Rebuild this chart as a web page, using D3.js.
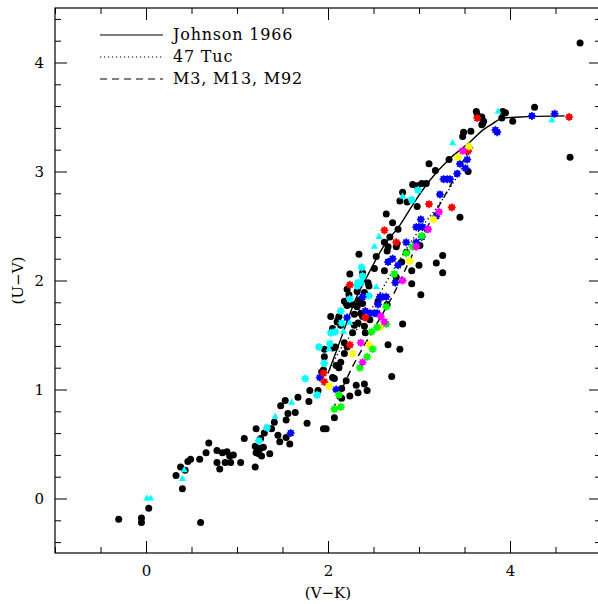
<!DOCTYPE html>
<meta charset="utf-8">
<script src="https://d3js.org/d3.v7.min.js"></script>
<style type="text/css">
body { margin: 0; background: #fff; }
svg text { font-family: "DejaVu Serif", serif; fill: #000; }
.axis line { stroke: #000; stroke-width: 1px; }
.axis path { display: none; }
.frame { fill: none; stroke: #000; stroke-width: 1.2px; }
.seq { fill: none; stroke: #000; stroke-width: 1.4px; }
</style>
<body>
<div id="chart"></div>
</body>
<script>

// sequences, (V-K, U-V)
var johnson = [[2.0,1.15],[2.1,1.37],[2.2,1.6],[2.3,1.82],[2.45,2.07],[2.6,2.3],[2.8,2.52],[2.95,2.72],[3.12,2.92],[3.34,3.12],[3.56,3.27],[3.7,3.38],[3.81,3.44],[3.92,3.49],[4.11,3.5],[4.6,3.51]];
var tuc47 = [[2.0,1.15],[2.13,1.36],[2.43,1.67],[2.65,2.0],[2.95,2.4],[3.23,2.71],[3.45,3.0],[3.59,3.22]];
var m3m13m92 = [[2.05,0.81],[2.27,1.21],[2.43,1.45],[2.76,1.94],[2.9,2.19],[3.15,2.58],[3.35,2.88],[3.55,3.2]];

// black stars (field giants)
var blackPts = [[-0.30,-0.19],[-0.05,-0.18],[-0.05,-0.22],[0.03,-0.09],[0.60,-0.22],[0.40,0.09],[0.33,0.21],[0.38,0.29],[0.43,0.26],[0.46,0.34],
  [0.49,0.36],[0.59,0.36],[0.66,0.42],[0.69,0.51],[0.78,0.44],[0.84,0.42],[0.89,0.43],[0.92,0.39],[0.96,0.40],[0.78,0.33],
  [0.81,0.27],[0.87,0.33],[0.93,0.33],[1.04,0.33],[1.08,0.55],[1.21,0.64],[1.20,0.48],[1.22,0.44],[1.26,0.46],[1.29,0.47],
  [1.21,0.42],[1.24,0.41],[1.20,0.29],[1.27,0.39],[1.36,0.41],[1.26,0.55],[1.30,0.60],[1.38,0.64],[1.45,0.58],[1.47,0.52],
  [1.54,0.56],[1.58,0.50],[1.54,0.72],[1.56,0.78],[1.64,0.79],[1.41,0.70],[1.48,0.85],[1.53,0.90],[1.67,0.93],[2.07,1.10],
  [2.20,1.08],[2.31,1.04],[2.33,0.97],[2.43,0.99],[2.24,0.94],[2.15,0.92],[2.07,0.74],[1.80,0.99],[1.89,0.99],[1.79,0.89],
  [1.77,0.69],[1.95,0.64],[1.98,0.64],[2.70,1.12],[2.66,1.41],[2.79,1.37],[2.82,1.60],[2.40,1.05],[2.15,1.01],[2.24,2.06],
  [2.44,1.98],[2.45,1.95],[2.21,1.92],[2.23,1.87],[2.32,1.90],[2.40,1.89],[2.18,1.81],[2.20,1.79],[2.21,1.77],[2.27,1.78],
  [2.32,1.76],[2.34,1.80],[2.03,1.67],[2.36,1.70],[2.29,1.69],[2.11,1.64],[2.14,1.59],[2.29,1.59],[2.33,1.61],[2.40,1.58],
  [2.46,1.64],[2.52,1.70],[2.05,1.56],[2.27,1.52],[2.18,1.43],[2.41,1.52],[2.08,1.39],[2.18,1.33],[2.09,1.22],[2.12,1.20],
  [2.14,1.25],[1.95,1.18],[2.35,1.82],[2.38,1.79],[2.12,1.67],[2.10,1.62],[2.38,1.67],[1.96,1.37],[2.05,1.38],[2.21,1.39],
  [1.96,1.30],[1.93,1.16],[2.05,1.11],[2.34,2.24],[2.53,2.22],[2.65,2.27],[2.81,2.17],[3.00,2.14],[3.19,2.16],[3.26,2.23],
  [3.26,2.07],[2.92,2.09],[2.92,1.97],[3.02,1.87],[2.75,2.03],[2.62,2.09],[2.51,2.11],[2.38,2.07],[2.55,1.81],[2.65,1.78],
  [3.64,3.52],[3.63,3.55],[3.49,3.36],[3.48,3.32],[3.57,3.37],[3.33,3.11],[3.11,3.07],[3.18,3.01],[3.54,3.00],[3.08,2.89],
  [3.03,2.89],[2.93,2.88],[2.98,2.87],[2.82,2.81],[2.79,2.73],[2.98,2.68],[3.45,2.58],[2.64,2.61],[2.71,2.53],[2.77,2.47],
  [3.09,2.47],[3.01,2.32],[2.76,2.34],[2.75,2.31],[2.62,2.35],[2.68,2.40],[2.66,2.31],[2.86,2.26],[3.70,3.44],[3.71,3.46],
  [3.92,3.55],[3.95,3.54],[3.91,3.49],[4.03,3.46],[2.87,2.72],[4.77,4.18],[4.66,3.13],[4.27,3.59],[3.69,3.50],[3.69,3.43]];

// cluster stars, one list per colour
var cyanPts = [[1.75,1.10],[1.88,0.95],[1.24,0.53],[1.33,0.65],[2.38,2.04],[2.33,1.98],[2.36,1.98],[2.32,1.95],[2.24,1.83],[2.45,1.86],
  [2.14,1.72],[2.15,1.61],[2.03,1.52],[2.08,1.53],[1.90,1.39],[2.02,1.42],[1.96,1.24],[2.37,2.12],[2.99,2.83],[2.92,2.74]];
var cyanTri = [[0.01,0.0],[0.05,0.0],[0.40,0.18],[0.42,0.26],[1.42,0.75],[1.60,0.88],[2.53,1.94],[2.24,1.61],[2.17,1.53],[2.01,1.37],
  [3.37,3.26],[2.82,2.77],[2.56,2.40],[2.51,2.31],[3.87,3.55],[4.46,3.47]];
var bluePts = [[1.59,0.60],[1.91,1.11],[2.09,1.00],[2.38,1.85],[2.41,1.72],[2.46,1.70],[2.51,1.70],[2.54,1.70],[2.21,1.66],[2.66,2.17],
  [2.71,2.20],[2.77,2.14],[2.74,1.98],[2.57,1.85],[2.60,1.85],[2.64,1.85],[2.55,1.78],[3.53,3.11],[3.45,3.07],[3.51,3.03],
  [3.42,2.98],[3.27,2.93],[3.31,2.93],[3.34,2.93],[3.23,2.79],[3.19,2.59],[3.02,2.56],[3.04,2.49],[2.97,2.49],[3.00,2.49],
  [3.03,2.40],[2.97,2.35],[2.86,2.35],[3.84,3.38],[3.86,3.36],[4.24,3.51],[4.49,3.53]];
var redPts = [[1.95,1.15],[1.96,1.07],[2.24,1.96],[2.41,1.66],[2.24,1.41],[3.64,3.49],[3.54,3.19],[3.11,2.70],[3.36,2.67],[2.62,2.46],
  [2.75,2.35],[4.65,3.50]];
var yellowPts = [[2.01,1.03],[2.45,1.41],[2.27,1.33],[2.90,2.18],[2.57,1.57],[3.55,3.23],[3.43,3.13],[3.16,2.56]];
var greenPts = [[2.12,0.95],[2.07,0.82],[2.14,0.84],[2.48,1.53],[2.54,1.57],[2.49,1.37],[2.43,1.30],[2.35,1.20],[2.86,2.25],[2.73,2.06],
  [2.64,1.76],[2.64,1.60],[3.03,2.41],[2.93,2.31]];
var magentaPts = [[2.36,1.43],[2.38,1.25],[2.82,2.00],[2.58,1.67],[2.62,1.62],[3.48,3.19],[3.22,2.63],[3.10,2.47],[2.97,2.31]];

var xTickLabels = [0, 2, 4];
var yTickLabels = [0, 1, 2, 3, 4];

var legendNames = ['Johnson 1966', '47 Tuc', 'M3, M13, M92'];
var legendDash = ['none', '1.2,2.8', '7,5'];

var width = 598, height = 604;
var plotLeft = 55, plotRight = 601, plotTop = 8, plotBottom = 553;

var svg = d3.select('#chart').append('svg')
    .attr('width', width)
    .attr('height', height);

var xScale = d3.scaleLinear().domain([-1, 5]).range([plotLeft, plotRight]);
var yScale = d3.scaleLinear().domain([-0.5, 4.5]).range([plotBottom, plotTop]);

// ticks: majors every 2 in x and 1 in y, minors every 0.5 and 0.2
var xMinor = d3.range(-1, 5.01, 0.5).filter(function(v) { return Math.abs(v / 2 - Math.round(v / 2)) > 0.01; });
var yMinor = d3.range(-0.4, 4.41, 0.2).filter(function(v) { return Math.abs(v - Math.round(v)) > 0.01; });

function addAxis(gen, values, size, tr, labels) {
  var g = svg.append('g').attr('class', 'axis').attr('transform', tr)
    .call(gen.tickValues(values).tickSizeInner(size).tickSizeOuter(0)
      .tickFormat(labels ? d3.format('d') : ''));
  g.selectAll('text').style('font-size', '15px');
  return g;
}

// bottom / top
addAxis(d3.axisBottom(xScale), xTickLabels, -12, 'translate(0,' + plotBottom + ')', true)
  .selectAll('text').attr('y', 12);
addAxis(d3.axisBottom(xScale), xMinor, -6, 'translate(0,' + plotBottom + ')', false);
addAxis(d3.axisTop(xScale), xTickLabels, -12, 'translate(0,' + plotTop + ')', false);
addAxis(d3.axisTop(xScale), xMinor, -6, 'translate(0,' + plotTop + ')', false);
// left / right
addAxis(d3.axisLeft(yScale), yTickLabels, -12, 'translate(' + plotLeft + ',0)', true)
  .selectAll('text').attr('x', -11);
addAxis(d3.axisLeft(yScale), yMinor, -6, 'translate(' + plotLeft + ',0)', false);
addAxis(d3.axisRight(yScale), yTickLabels, -12, 'translate(' + plotRight + ',0)', false);
addAxis(d3.axisRight(yScale), yMinor, -6, 'translate(' + plotRight + ',0)', false);

svg.append('rect').attr('class', 'frame')
  .attr('x', plotLeft).attr('y', plotTop)
  .attr('width', plotRight - plotLeft).attr('height', plotBottom - plotTop);

// axis titles
svg.append('text')
  .attr('x', xScale(2)).attr('y', 598)
  .attr('text-anchor', 'middle')
  .style('font-size', '15px')
  .text('(V\u2212K)');

svg.append('text')
  .attr('transform', 'translate(23,' + yScale(2) + ') rotate(-90)')
  .attr('text-anchor', 'middle')
  .style('font-size', '15px')
  .text('(U\u2212V)');

var line = d3.line()
  .x(function(d) { return xScale(d[0]); })
  .y(function(d) { return yScale(d[1]); })
  .curve(d3.curveMonotoneX);

// black points
svg.append('g').selectAll('circle')
  .data(blackPts).enter().append('circle')
  .attr('cx', function(d) { return xScale(d[0]); })
  .attr('cy', function(d) { return yScale(d[1]); })
  .attr('r', 3.5)
  .style('fill', '#000');

// the three sequences
[johnson, tuc47, m3m13m92].forEach(function(seq, i) {
  svg.append('path')
    .attr('class', 'seq')
    .attr('d', line(seq))
    .style('stroke-dasharray', legendDash[i]);
});

// starred markers: filled dot plus asterisk arms
var starGroups = [
  {pts: cyanPts, color: '#00ffff'},
  {pts: bluePts, color: '#0000ff'},
  {pts: redPts, color: '#ff0000'},
  {pts: yellowPts, color: '#ffff00'},
  {pts: greenPts, color: '#00ff00'},
  {pts: magentaPts, color: '#ff00ff'}
];
var arms = [0, 45, 90, 135];

starGroups.forEach(function(grp) {
  var g = svg.append('g').selectAll('g')
    .data(grp.pts).enter().append('g')
    .attr('transform', function(d) { return 'translate(' + xScale(d[0]) + ',' + yScale(d[1]) + ')'; });
  g.append('circle')
    .attr('r', 3.1)
    .style('fill', grp.color);
  arms.forEach(function(a) {
    g.append('line')
      .attr('x1', -4).attr('x2', 4)
      .attr('transform', 'rotate(' + a + ')')
      .style('stroke', grp.color)
      .style('stroke-width', 1.5);
  });
});

// cyan triangles
svg.append('g').selectAll('path')
  .data(cyanTri).enter().append('path')
  .attr('transform', function(d) { return 'translate(' + xScale(d[0]) + ',' + yScale(d[1]) + ')'; })
  .attr('d', d3.symbol().type(d3.symbolTriangle).size(22))
  .style('fill', '#00ffff');

// legend
var legend = svg.append('g').selectAll('g')
  .data(legendNames).enter().append('g')
  .attr('transform', function(d, i) { return 'translate(100,' + (35 + i * 22) + ')'; });

legend.append('line')
  .attr('x1', 0).attr('x2', 63)
  .style('stroke', '#000')
  .style('stroke-width', 1.2)
  .style('stroke-dasharray', function(d, i) { return legendDash[i]; });

legend.append('text')
  .attr('x', 73).attr('y', 5)
  .style('font-size', '16px')
  .style('letter-spacing', '0.8px')
  .text(function(d) { return d; });

</script>
